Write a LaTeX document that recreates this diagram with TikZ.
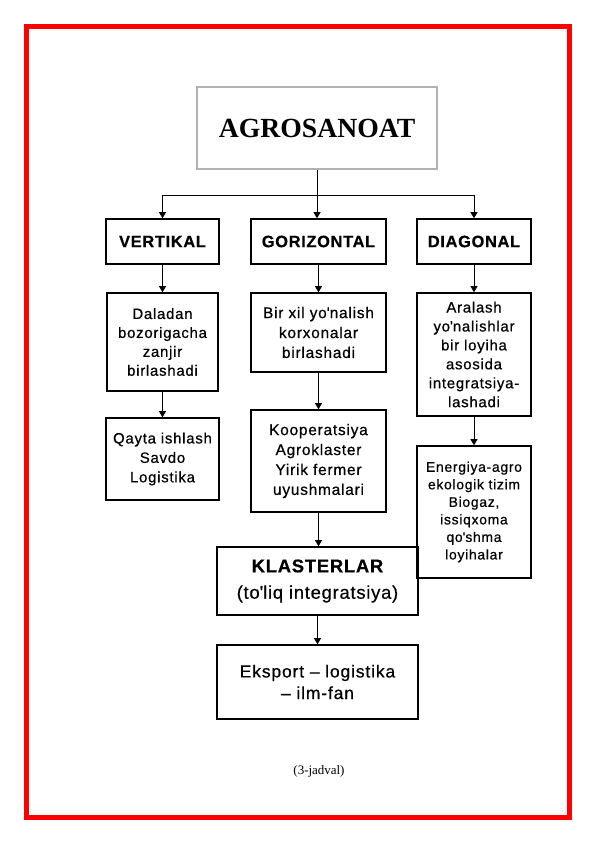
\documentclass[tikz,border=0pt]{standalone}
\usepackage{fontspec}
\setmainfont{Liberation Serif}
\newfontfamily\boxfont[LetterSpace=5, FakeBold=0.6]{Liberation Sans}
\newfontfamily\headfont[LetterSpace=4, FakeBold=0.5]{Liberation Sans}
\usetikzlibrary{arrows.meta}
\definecolor{titlegray}{RGB}{178,178,178}
\tikzset{
    title/.style = {rectangle, draw = titlegray, line width = 1.4bp, minimum width = 240bp, minimum height = 82bp, font = \bfseries\fontsize{27.8}{30}\selectfont},
    head/.style = {rectangle, draw = black, line width = 1.6bp, minimum height = 45bp, font = \headfont\bfseries\fontsize{16.5}{19}\selectfont},
    box/.style = {rectangle, draw = black, line width = 1.6bp, align = center, inner sep = 2bp, font = \boxfont\fontsize{15}{19}\selectfont},
    arr/.style = {draw = black, line width = 0.9bp, -{Triangle[length = 6bp, width = 7bp]}},
    caption/.style = {font = \fontsize{13}{15}\selectfont}
}

\begin{document}
\begin{tikzpicture}[x = 1bp, y = -1bp]
        \useasboundingbox (0,0) rectangle (595,842);
        \draw [red, line width = 5bp] (26.5,26.5) rectangle (569,817);
        \node [title] (agro) at (317,128) {AGROSANOAT};
        \node [head, minimum width = 113bp] (vert) at (162.5,241.5) {VERTIKAL};
        \node [head, minimum width = 135bp] (gor) at (318.5,241.5) {GORIZONTAL};
        \node [head, minimum width = 114bp] (diag) at (474,241.5) {DIAGONAL};
        \node [box, minimum width = 111bp, minimum height = 98bp] (dal) at (162.5,342) {Daladan\\ bozorigacha\\ zanjir\\ birlashadi};
        \node [box, minimum width = 135bp, minimum height = 79bp, font = \boxfont\fontsize{15.5}{20}\selectfont] (bir) at (318.5,332.5) {Bir xil yo\textquotesingle nalish\\ korxonalar\\ birlashadi};
        \node [box, minimum width = 114bp, minimum height = 123bp] (ara) at (474,354.5) {Aralash\\ yo\textquotesingle nalishlar\\ bir loyiha\\ asosida\\ integratsiya-\\ lashadi};
        \node [box, minimum width = 113bp, minimum height = 82bp, font = \boxfont\fontsize{15}{19.5}\selectfont] (qay) at (162.5,459) {Qayta ishlash\\ Savdo\\ Logistika};
        \node [box, minimum width = 135bp, minimum height = 102bp, font = \boxfont\fontsize{15.5}{20}\selectfont] (koop) at (318.5,461) {Kooperatsiya\\ Agroklaster\\ Yirik fermer\\ uyushmalari};
        \node [box, minimum width = 114bp, minimum height = 132bp, font = \boxfont\fontsize{14}{17.6}\selectfont] (ener) at (474,512) {Energiya-agro\\ ekologik tizim\\ Biogaz,\\ issiqxoma\\ qo\textquotesingle shma\\ loyihalar};
        \node [box, minimum width = 201bp, minimum height = 68bp, font = \headfont\fontsize{18.5}{26.5}\selectfont] (klas) at (317.5,581) {{\bfseries KLASTERLAR}\\ (to\textquotesingle liq integratsiya)};
        \node [box, minimum width = 201bp, minimum height = 74bp, font = \boxfont\fontsize{17.5}{21.7}\selectfont] (eks) at (317.5,682) {Eksport – logistika\\ – ilm-fan};
        \node [caption] (cap) at (319,771) {(3-jadval)};
        \draw (agro.south) -- ++(0,26) coordinate (fork);
        \draw [arr] (fork) -- (fork |- gor.north);
        \draw [arr] (fork) -| (vert);
        \draw [arr] (fork) -| (diag);
        \draw [arr] (vert) -- (dal);
        \draw [arr] (dal) -- (qay);
        \draw [arr] (gor) -- (bir);
        \draw [arr] (bir) -- (koop);
        \draw [arr] (koop.south) -- (koop.south |- klas.north);
        \draw [arr] (klas) -- (eks);
        \draw [arr] (diag) -- (ara);
        \draw [arr] (ara) -- (ener);
    \end{tikzpicture}
\end{document}
